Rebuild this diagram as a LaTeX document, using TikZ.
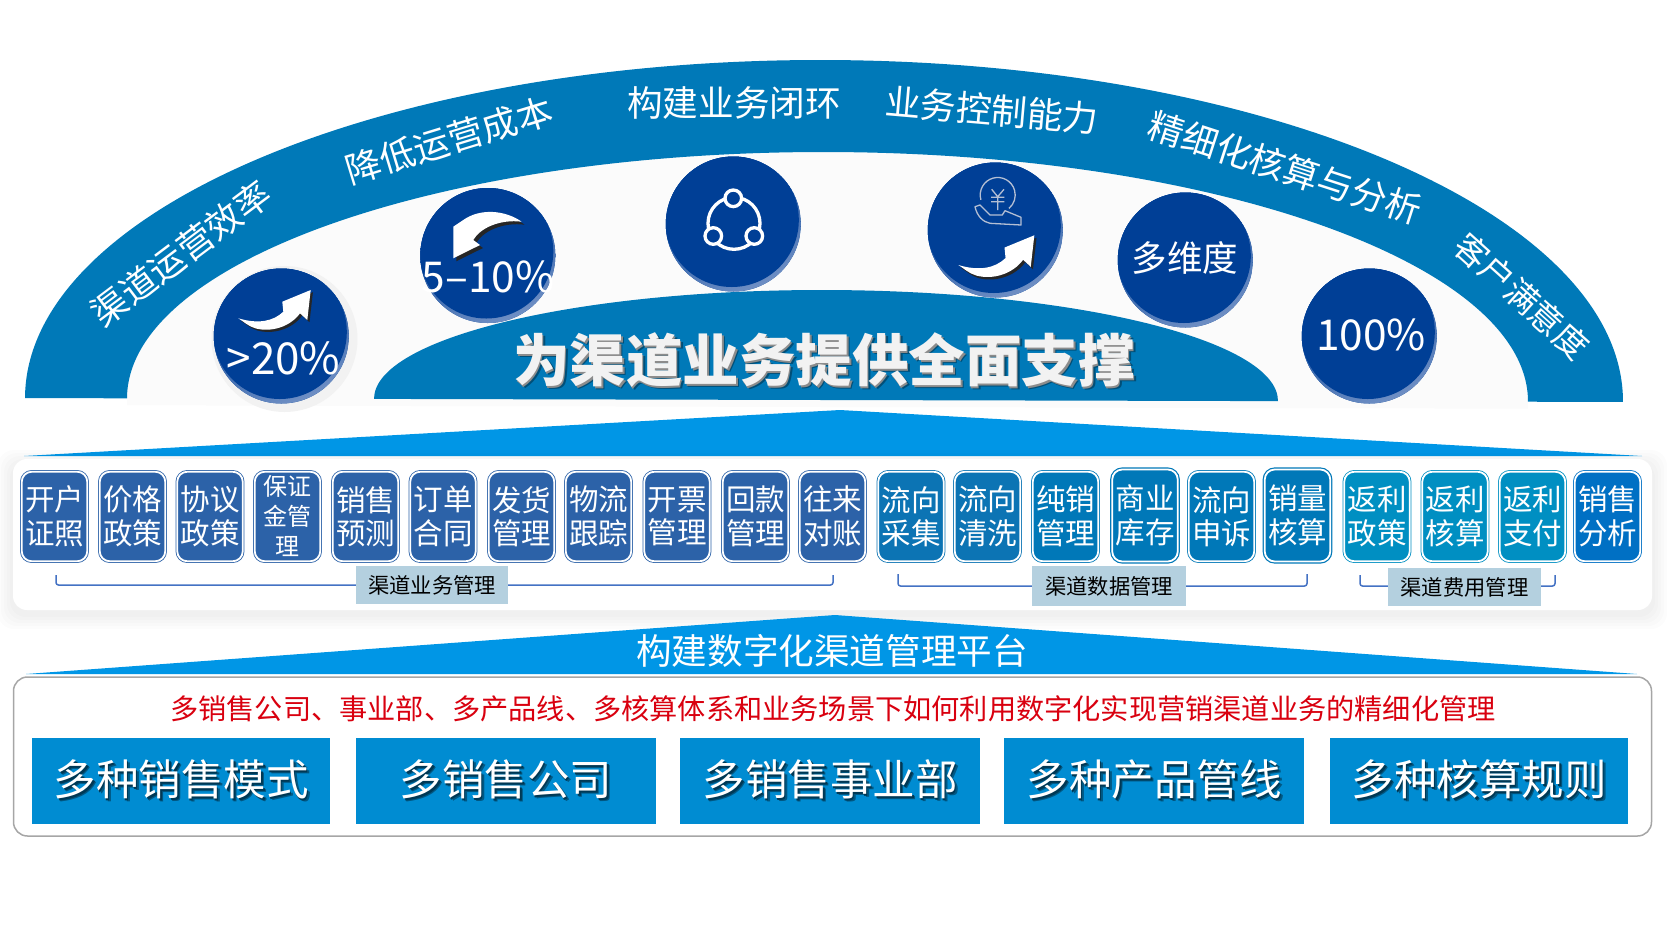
\documentclass[tikz,border=0pt]{standalone}
\usepackage{fontspec}
\setmainfont{Noto Sans CJK SC}
\usetikzlibrary{positioning, arrows.meta}
\definecolor{archblue}{HTML}{0079B8}
\definecolor{wedgeblue}{HTML}{0096E6}
\definecolor{hubblue}{HTML}{003F96}
\definecolor{hubshine}{HTML}{6F8FC4}
\definecolor{paleground}{HTML}{FBFBFB}
\definecolor{haloGray}{HTML}{F2F2F2}
\definecolor{chipslate}{HTML}{2C62A8}
\definecolor{chipflow}{HTML}{0C74B4}
\definecolor{chipdata}{HTML}{0078B8}
\definecolor{chipteal}{HTML}{008FC2}
\definecolor{chipazure}{HTML}{0070C4}
\definecolor{tagfill}{HTML}{B4D0DF}
\definecolor{bracketblue}{HTML}{4472C4}
\definecolor{frameGray}{HTML}{A6A6A6}
\definecolor{alertred}{HTML}{D9000F}
\definecolor{basefill}{HTML}{008CD2}
\definecolor{iconline}{HTML}{B4BFD4}
\newcommand{\shadelabel}[3]{\makebox[0pt][l]{\kern3pt\raisebox{-3pt}{\textcolor{#1}{#3}}}\makebox[0pt][l]{\kern1.5pt\raisebox{-1.5pt}{\textcolor{#2}{#3}}}#3}
\tikzset{
  bandlabel/.style={text=white, font=\fontsize{35.6}{40}\selectfont, inner sep=0pt},
  hubcircle/.style={circle, fill=hubblue, minimum size=135pt, inner sep=0pt,
    path picture={
      \shade[top color=hubblue, middle color=hubblue, bottom color=hubshine, shading angle=25]
        (path picture bounding box.south west) rectangle (path picture bounding box.north east);
      \fill[hubblue] ([xshift=-1.5pt,yshift=4pt]path picture bounding box.center) circle (67pt);}},
  hublabel/.style={text=white, font=\fontsize{42.5}{46}\selectfont, inner sep=0pt},
  chipbox/.style={rounded corners=10pt, draw=#1, double=white, double distance=1.8pt, line width=0.8pt, fill=#1,
    minimum width=65.5pt, minimum height=89.5pt, inner sep=0pt, align=center, text=white,
    font=\fontsize{29.5}{33.5}\selectfont},
  chipstrong/.style={line width=1.2pt, minimum height=92pt},
  tagbox/.style={fill=tagfill, text=black, inner sep=0pt, font=\fontsize{21.3}{25}\selectfont},
  bracketline/.style={draw=bracketblue, line width=1.5pt, rounded corners=2.5pt},
  basebox/.style={fill=basefill, text=white, minimum height=86pt, inner sep=0pt, font=\fontsize{42.5}{48}\selectfont},
  iconstroke/.style={draw=iconline, line width=1.3pt, line join=round},
  pics/swoosh/.style={code={
    \fill[#1] (0,0) .. controls (20,-6) and (35,-3) .. (45,6.6) -- (44,16.6) -- (72.4,28.3) -- (69,-1.7) -- (61.7,5)
      .. controls (52,-8.4) and (33,-14.4) .. (17,-10) .. controls (10,-8) and (5,-3) .. (0,0) -- cycle;
  }}
}
\begin{document}
\begin{tikzpicture}[x=1pt, y=1pt]
  \useasboundingbox (0,0) rectangle (1668,-938);

  % Arch
  \begin{scope}[rotate around={-0.14:(824,-400)}]
    \fill[paleground] (127,-407) -- (127,-400) arc[start angle=180, end angle=0, x radius=700.5, y radius=248] -- (1528,-407) -- cycle;
    \fill[archblue] (25,-400) arc[start angle=180, end angle=0, x radius=799, y radius=340]
      -- (1528,-400) arc[start angle=0, end angle=180, x radius=700.5, y radius=248] -- cycle;
    \fill[archblue] (374,-400) arc[start angle=180, end angle=0, x radius=452, y radius=110] -- cycle;
  \end{scope}

  % Arch labels
  \node[bandlabel, rotate=37] (lblefficiency) at (181,-253) {渠道运营效率};
  \node[bandlabel, rotate=17] (lblcost) at (449,-140) {降低运营成本};
  \node[bandlabel] (lblloop) at (734,-103) {构建业务闭环};
  \node[bandlabel, rotate=-5] (lblcontrol) at (992,-110) {业务控制能力};
  \node[bandlabel, rotate=-18] (lblaccount) at (1285,-168) {精细化核算与分析};
  \node[bandlabel, rotate=-42, font=\fontsize{33.5}{38}\selectfont] (lblclient) at (1522,-296) {客户满意度};
  \node[text=haloGray, font=\bfseries\fontsize{56.5}{62}\selectfont, inner sep=0pt] (lbltitle) at (824,-362)
    {\shadelabel{black!35!archblue}{black!45}{为渠道业务提供全面支撑}};

  % Hubs
  \node[circle, fill=haloGray, minimum size=146pt, inner sep=0pt] (halo) at (284.5,-339) {};
  \node[hubcircle] (hubup) at (281.3,-336) {};
  \node[hubcircle] (hubdown) at (487.8,-255.5) {};
  \node[hubcircle] (hubring) at (733.3,-224) {};
  \node[hubcircle] (hubyen) at (995.3,-230) {};
  \node[hubcircle] (hubdim) at (1185.3,-260) {};
  \node[hubcircle] (hubfull) at (1369.3,-336) {};
  \node[hublabel, font=\fontsize{44}{48}\selectfont] (rateup) at (283.5,-358.5) {>20\%};
  \node[hublabel] (ratedown) at (488,-277) {5–10\%};
  \node[hublabel, font=\fontsize{35.5}{40}\selectfont] (ratedim) at (1185,-258) {多维度};
  \node[hublabel] (ratefull) at (1371,-335) {100\%};

  % Arrows in hubs
  \pic at (240.5,-320.5) {swoosh=black!85};
  \pic at (238.3,-318.3) {swoosh=white};
  \pic[scale=1.05] at (960.5,-267.5) {swoosh=black!85};
  \pic[scale=1.05] at (958.3,-265) {swoosh=white};
  \fill[black!85, shift={(3,-3)}] (521.7,-221.7) .. controls (505,-210) and (480,-208) .. (463.3,-220) -- (453.3,-226.7) -- (453.3,-258.3) -- (480,-245) -- (473.3,-240) .. controls (480,-228) and (500,-219) .. (521.7,-221.7) -- cycle;
  \fill[white] (521.7,-221.7) .. controls (505,-210) and (480,-208) .. (463.3,-220) -- (453.3,-226.7) -- (453.3,-258.3) -- (480,-245) -- (473.3,-240) .. controls (480,-228) and (500,-219) .. (521.7,-221.7) -- cycle;

  % Ring icon
  \draw[white, line width=3.3pt] (734,-223.3) circle (26);
  \foreach \rx/\ry in {733.3/198.3, 713.3/236, 754.3/236}
    \draw[white, fill=hubblue, line width=3.3pt] (\rx,-\ry) circle (8.3);

  % Yen icon
  \draw[iconstroke] (980.9,-199.8) arc[start angle=196, end angle=-50, radius=17.5];
  \draw[iconstroke] (991.7,-189.3) -- (997.7,-196.7) -- (1004,-189.3) (991,-197.3) -- (1004.3,-197.3) (991,-201.7) -- (1004.3,-201.7) (997.7,-196.7) -- (997.7,-210);
  \draw[iconstroke] (975,-206.7) .. controls (977,-216) and (983,-222) .. (990,-223.3) -- (1021,-225) -- (1021,-217.3) -- (1005,-210.7) -- (1002.3,-215) -- (990,-215) -- (980,-205) -- cycle;

  % Upper wedge and panel
  \fill[wedgeblue] (24,-456) -- (840,-410) -- (1642,-456) -- cycle;
  \foreach \spread in {3,6,9,12,15}
    \fill[black, opacity=0.012, rounded corners=16pt] (13-\spread,-459+\spread-6) rectangle (1652+\spread,-610-\spread-4);
  \node[fill=white, rounded corners=14pt, minimum width=1639pt, minimum height=151pt, inner sep=0pt] (panel) at (832.5,-534.5) {};

  % Chips
  \foreach \chipname/\chipx/\chiptext/\chipfill in {
      kaihu/54.5/{开户\\证照}/chipslate, jiage/132.5/{价格\\政策}/chipslate, xieyi/210/{协议\\政策}/chipslate,
      yuce/365.5/{销售\\预测}/chipslate, dingdan/443/{订单\\合同}/chipslate, fahuo/521.5/{发货\\管理}/chipslate,
      wuliu/598.5/{物流\\跟踪}/chipslate, kaipiao/677/{开票\\管理}/chipslate, huikuan/755.5/{回款\\管理}/chipslate,
      duizhang/832.5/{往来\\对账}/chipslate, caiji/911/{流向\\采集}/chipflow, qingxi/987.5/{流向\\清洗}/chipflow,
      chunxiao/1065.5/{纯销\\管理}/chipdata, shensu/1221.5/{流向\\申诉}/chipdata,
      fanli/1377/{返利\\政策}/chipteal, fanhe/1455/{返利\\核算}/chipteal,
      zhifu/1532.5/{返利\\支付}/chipteal, fenxi/1607.5/{销售\\分析}/chipazure}
    \node[chipbox=\chipfill] (\chipname) at (\chipx,-516.5) {\chiptext};
  \node[chipbox=chipdata, chipstrong] (kucun) at (1145,-515.5) {商业\\库存};
  \node[chipbox=chipdata, chipstrong] (hesuan) at (1297.5,-515.5) {销量\\核算};
  \node[chipbox=chipslate, font=\fontsize{24}{30}\selectfont] (baozheng) at (287.5,-516.5) {保证\\金管\\理};

  % Group tags
  \node[tagbox, minimum width=152pt, minimum height=38pt] (tagbiz) at (432,-585) {渠道业务管理};
  \node[tagbox, minimum width=154pt, minimum height=40pt] (tagdata) at (1109,-586) {渠道数据管理};
  \node[tagbox, minimum width=153pt, minimum height=38pt] (tagfee) at (1464.5,-587) {渠道费用管理};
  \coordinate (bizleft) at (56,-575);
  \coordinate (bizright) at (833,-575);
  \coordinate (dataleft) at (898,-574);
  \coordinate (dataright) at (1307,-574);
  \coordinate (feeleft) at (1360,-575);
  \coordinate (feeright) at (1555,-575);
  \draw[bracketline] (tagbiz.west) -| (bizleft);
  \draw[bracketline] (tagbiz.east) -| (bizright);
  \draw[bracketline] (tagdata.west) -| (dataleft);
  \draw[bracketline] (tagdata.east) -| (dataright);
  \draw[bracketline] ([yshift=1pt]tagfee.west) -| (feeleft);
  \draw[bracketline] ([yshift=1pt]tagfee.east) -| (feeright);

  % Lower wedge
  \fill[wedgeblue] (26,-674) -- (835,-615) -- (1637,-674) -- cycle;
  \node[text=white, font=\fontsize{35.6}{40}\selectfont, inner sep=0pt] (lblplatform) at (832,-651) {构建数字化渠道管理平台};

  % Base frame
  \node[draw=frameGray, line width=1.5pt, fill=white, rounded corners=14pt, minimum width=1638pt, minimum height=159pt, inner sep=0pt] (frame) at (832.5,-756.5) {};
  \node[text=alertred, font=\fontsize{28.2}{33}\selectfont, inner sep=0pt] (lblquestion) at (833,-708.5) {多销售公司、事业部、多产品线、多核算体系和业务场景下如何利用数字化实现营销渠道业务的精细化管理};
  \foreach \basename/\basex/\basew/\basetext in {
      modes/181/298/多种销售模式, firms/506/300/多销售公司, units/830/300/多销售事业部,
      lines/1154/300/多种产品管线, rules/1479/298/多种核算规则}
    \node[basebox, minimum width=\basew pt] (\basename) at (\basex,-781) {\shadelabel{basefill!62!black}{basefill!40!black}{\basetext}};
\end{tikzpicture}
\end{document}
